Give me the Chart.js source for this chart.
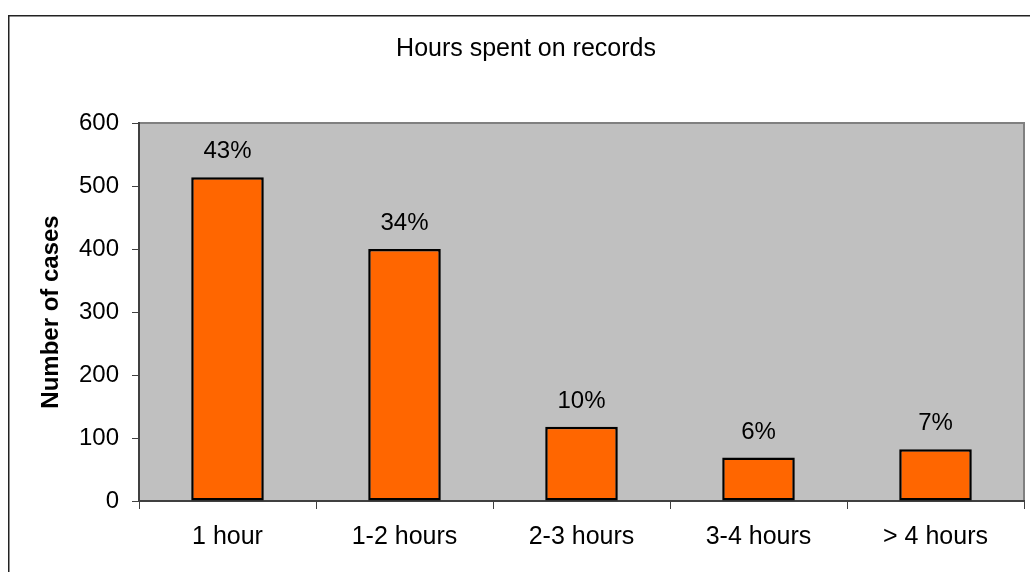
<!DOCTYPE html>
<html>
<head>
<meta charset="utf-8">
<script src="https://cdn.jsdelivr.net/npm/chart.js@4/dist/chart.umd.min.js"></script>
<style>
html,body{margin:0;padding:0;background:#fff;}
#wrap{width:1030px;height:572px;position:relative;}
</style>
</head>
<body>
<div id="wrap"><canvas id="c" width="1030" height="572"></canvas></div>
<script>
const categories = ["1 hour", "1-2 hours", "2-3 hours", "3-4 hours", "> 4 hours"];
const cases = [514, 400, 118, 69, 82];
const percentLabels = ["43%", "34%", "10%", "6%", "7%"];
const yTicks = [0, 100, 200, 300, 400, 500, 600];
const chartTitle = "Hours spent on records";
const yTitle = "Number of cases";

const FONT = "'Liberation Sans', Arial, sans-serif";

const decor = {
  id: 'decor',
  beforeDraw(chart) {
    const ctx = chart.ctx, a = chart.chartArea;
    ctx.save();
    ctx.fillStyle = '#fff';
    ctx.fillRect(0, 0, chart.width, chart.height);
    // outer border (left and top visible)
    ctx.strokeStyle = '#222';
    ctx.lineWidth = 1.5;
    ctx.beginPath();
    ctx.moveTo(8.75, chart.height);
    ctx.lineTo(8.75, 15.75);
    ctx.lineTo(chart.width, 15.75);
    ctx.stroke();
    // plot background
    ctx.fillStyle = '#C0C0C0';
    ctx.fillRect(a.left, a.top, a.right - a.left, a.bottom - a.top);
    // plot border top/right
    ctx.strokeStyle = '#808080';
    ctx.lineWidth = 2;
    ctx.beginPath();
    ctx.moveTo(a.left, a.top);
    ctx.lineTo(a.right, a.top);
    ctx.lineTo(a.right, a.bottom);
    ctx.stroke();
    ctx.restore();
  },
  afterDraw(chart) {
    const ctx = chart.ctx;
    ctx.save();
    ctx.fillStyle = '#000';
    // title
    ctx.font = '25px ' + FONT;
    ctx.textAlign = 'center';
    ctx.textBaseline = 'alphabetic';
    ctx.fillText(chartTitle, 526, 56);
    // y title
    ctx.font = 'bold 24px ' + FONT;
    ctx.translate(58, 312);
    ctx.rotate(-Math.PI / 2);
    ctx.fillText(yTitle, 0, 0);
    ctx.restore();
    // data labels
    ctx.save();
    ctx.font = '24px ' + FONT;
    ctx.textAlign = 'center';
    ctx.textBaseline = 'alphabetic';
    ctx.fillStyle = '#000';
    const meta = chart.getDatasetMeta(0);
    meta.data.forEach((bar, i) => {
      ctx.fillText(percentLabels[i], bar.x, bar.y - 19);
    });
    ctx.restore();
  }
};

new Chart(document.getElementById('c'), {
  type: 'bar',
  data: {
    labels: categories,
    datasets: [{
      data: cases,
      backgroundColor: '#FF6600',
      borderColor: '#000',
      borderWidth: 2.5,
      borderSkipped: false,
      categoryPercentage: 1,
      barPercentage: 0.41
    }]
  },
  options: {
    responsive: false,
    animation: false,
    events: [],
    layout: { padding: { left: 0, top: 123, right: 6, bottom: 0 } },
    plugins: { legend: { display: false }, title: { display: false }, tooltip: { enabled: false } },
    scales: {
      x: {
        grid: { offset: true, drawOnChartArea: false, tickLength: 8, color: '#404040', lineWidth: 1 },
        border: { color: '#404040', width: 2 },
        ticks: { color: '#000', font: { family: FONT, size: 25 }, padding: 13, maxRotation: 0 },
        afterFit(s) { s.height = 572 - 501; }
      },
      y: {
        min: 0, max: 600,
        afterBuildTicks(s) { s.ticks = yTicks.map(v => ({ value: v })); },
        grid: { drawOnChartArea: false, tickLength: 7, color: '#404040', lineWidth: 1 },
        border: { color: '#404040', width: 2 },
        ticks: { color: '#000', font: { family: FONT, size: 24 }, padding: 13 },
        afterFit(s) { s.width = 139; }
      }
    }
  },
  plugins: [decor]
});
</script>
</body>
</html>
